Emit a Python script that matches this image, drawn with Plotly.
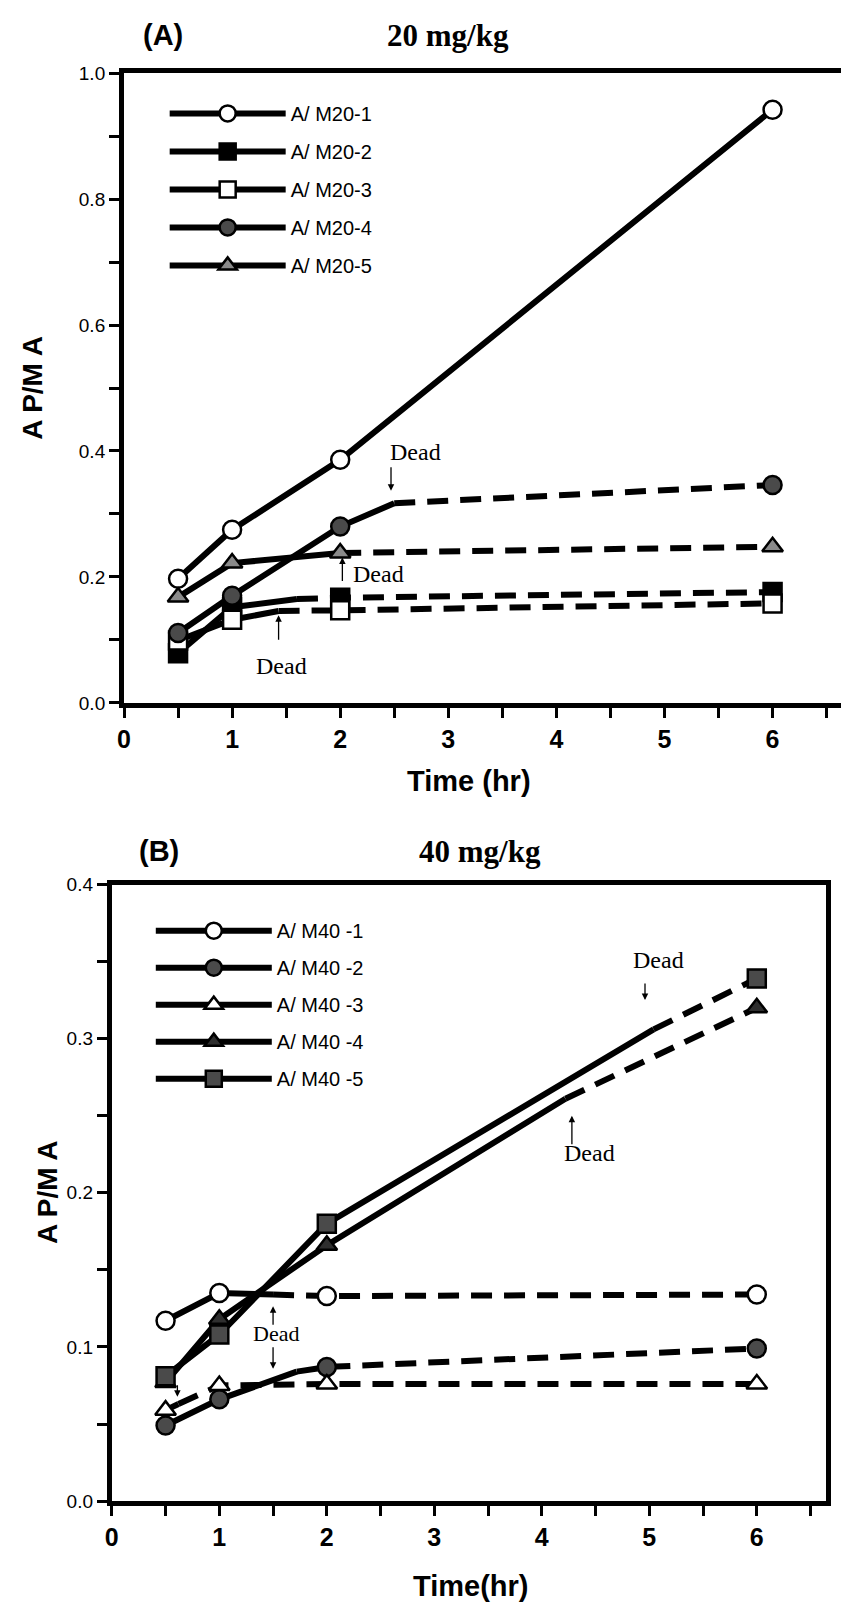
import plotly.graph_objects as go

W, H = 841, 1618

# ---------------- data ----------------
time_points = [0.5, 1, 2, 6]

# Panel A (20 mg/kg)
names_A = ["A/ M20-1", "A/ M20-2", "A/ M20-3", "A/ M20-4", "A/ M20-5"]
m20_1 = [0.197, 0.275, 0.386, 0.942]
m20_2 = [0.079, 0.152, 0.167, 0.176]
m20_3 = [0.099, 0.132, 0.147, 0.158]
m20_4 = [0.111, 0.170, 0.280, 0.346]
m20_5 = [0.168, 0.222, 0.238, 0.248]
# time of death and value at that moment (None = survived)
dead_t_A = [None, 1.6, 1.43, 2.5, 2.0]
dead_v_A = [None, 0.165, 0.146, 0.317, 0.238]

# Panel B (40 mg/kg)
names_B = ["A/ M40 -1", "A/ M40 -2", "A/ M40 -3", "A/ M40 -4", "A/ M40 -5"]
m40_1 = [0.117, 0.135, 0.133, 0.134]
m40_2 = [0.049, 0.066, 0.087, 0.099]
m40_3 = [0.059, 0.075, 0.076, 0.076]
m40_4 = [0.077, 0.118, 0.166, 0.320]
m40_5 = [0.081, 0.108, 0.180, 0.339]
dead_t_B = [1.5, 1.72, 0.62, 4.22, 5.04]
dead_v_B = [0.134, 0.084, 0.063, 0.261, 0.306]

# axis ticks
x_tickvals = [0, 0.5, 1, 1.5, 2, 2.5, 3, 3.5, 4, 4.5, 5, 5.5, 6, 6.5]
x_ticktext = ["0", "", "1", "", "2", "", "3", "", "4", "", "5", "", "6", ""]
yA_tickvals = [0, 0.1, 0.2, 0.3, 0.4, 0.5, 0.6, 0.7, 0.8, 0.9, 1.0]
yA_ticktext = ["0.0", "", "0.2", "", "0.4", "", "0.6", "", "0.8", "", "1.0"]
yB_tickvals = [0, 0.05, 0.1, 0.15, 0.2, 0.25, 0.3, 0.35, 0.4]
yB_ticktext = ["0.0", "", "0.1", "", "0.2", "", "0.3", "", "0.4"]

# ---------------- styles ----------------
WHITE, BLACK = "#ffffff", "#000000"
styles_A = [
    dict(symbol="circle", color=WHITE),
    dict(symbol="square", color=BLACK),
    dict(symbol="square", color=WHITE),
    dict(symbol="circle", color="#4a4a4a"),
    dict(symbol="triangle-up", color="#8a8a8a"),
]
styles_B = [
    dict(symbol="circle", color=WHITE),
    dict(symbol="circle", color="#4a4a4a"),
    dict(symbol="triangle-up", color=WHITE),
    dict(symbol="triangle-up", color="#2e2e2e"),
    dict(symbol="square", color="#4a4a4a"),
]
LW = 6
DASH = "21px,12px"
MS = 18

fig = go.Figure()


def add_series(vals, dt, dv, name, st, xa, ya, leg, grp):
    t = time_points
    if dt is None:
        sx, sy, dx, dy = list(t), list(vals), [], []
    else:
        sx = [a for a in t if a <= dt] + [dt]
        sy = [b for a, b in zip(t, vals) if a <= dt] + [dv]
        dx = [dt] + [a for a in t if a > dt]
        dy = [dv] + [b for a, b in zip(t, vals) if a > dt]
    fig.add_trace(go.Scatter(x=sx, y=sy, mode="lines", xaxis=xa, yaxis=ya,
                             line=dict(color=BLACK, width=LW), showlegend=False,
                             hoverinfo="skip"))
    if dx:
        fig.add_trace(go.Scatter(x=dx, y=dy, mode="lines", xaxis=xa, yaxis=ya,
                                 line=dict(color=BLACK, width=LW, dash=DASH),
                                 showlegend=False, hoverinfo="skip"))
    fig.add_trace(go.Scatter(x=t, y=vals, mode="markers", xaxis=xa, yaxis=ya,
                             marker=dict(symbol=st["symbol"], color=st["color"], size=MS,
                                         line=dict(color=BLACK, width=2.5)),
                             showlegend=False, name=name))
    # legend proxy
    fig.add_trace(go.Scatter(x=[None], y=[None], mode="lines+markers", xaxis=xa, yaxis=ya,
                             name=name, legend=leg, legendgroup=grp,
                             line=dict(color=BLACK, width=LW),
                             marker=dict(symbol=st["symbol"], color=st["color"], size=MS - 1,
                                         line=dict(color=BLACK, width=2.5))))


series_A = [m20_1, m20_2, m20_3, m20_4, m20_5]
series_B = [m40_1, m40_2, m40_3, m40_4, m40_5]
for i in range(5):
    add_series(series_A[i], dead_t_A[i], dead_v_A[i], names_A[i], styles_A[i],
               "x", "y", "legend", "A%d" % i)
for i in range(5):
    add_series(series_B[i], dead_t_B[i], dead_v_B[i], names_B[i], styles_B[i],
               "x2", "y2", "legend2", "B%d" % i)

# ---------------- axes ----------------
def px_x(p):
    return p / W


def px_y(p):
    return 1 - p / H


tick_font_y = dict(family="Liberation Sans", size=19, color=BLACK)
tick_font_x = dict(family="Liberation Sans", size=25, color=BLACK, weight="bold")
common_x = dict(showgrid=False, zeroline=False, showline=True, linecolor=BLACK, linewidth=5,
                mirror=True, ticks="outside", ticklen=10, tickwidth=3, tickcolor=BLACK,
                tickmode="array", tickvals=x_tickvals, ticktext=x_ticktext,
                tickfont=tick_font_x)
common_y = dict(showgrid=False, zeroline=False, showline=True, linecolor=BLACK, linewidth=5,
                ticks="outside", ticklen=10, tickwidth=3, tickcolor=BLACK,
                tickmode="array", tickfont=tick_font_y)

fig.update_layout(
    width=W, height=H, margin=dict(l=0, r=0, t=0, b=0),
    paper_bgcolor=WHITE, plot_bgcolor=WHITE,
    xaxis=dict(domain=[px_x(118), 1.0], range=[0, 6.633], anchor="y", **common_x),
    yaxis=dict(domain=[px_y(702), px_y(64)], range=[0, 1.0], anchor="x", mirror=False,
               tickvals=yA_tickvals, ticktext=yA_ticktext, **common_y),
    xaxis2=dict(domain=[px_x(105.7), px_x(826)], range=[0, 6.645], anchor="y2", **common_x),
    yaxis2=dict(domain=[px_y(1510.7), px_y(886)], range=[0, 0.4], anchor="x2", mirror=True,
                tickvals=yB_tickvals, ticktext=yB_ticktext, **common_y),
    legend=dict(x=px_x(159), y=px_y(85), xanchor="left", yanchor="top",
                bgcolor="rgba(0,0,0,0)", itemwidth=116, tracegroupgap=9,
                font=dict(family="Liberation Sans", size=20, color=BLACK)),
    legend2=dict(x=px_x(145), y=px_y(913), xanchor="left", yanchor="top",
                 bgcolor="rgba(0,0,0,0)", itemwidth=116, tracegroupgap=8,
                 font=dict(family="Liberation Sans", size=20, color=BLACK)),
    showlegend=True,
)

# ---------------- annotations ----------------
ann = []


def text_ann(x, y, text, font, xref="paper", yref="paper", xanchor="center", yanchor="middle",
             textangle=0):
    ann.append(dict(x=x, y=y, xref=xref, yref=yref, text=text, showarrow=False, font=font,
                    xanchor=xanchor, yanchor=yanchor, textangle=textangle))


def arrow_ann(x, y, ay, xref, yref):
    ann.append(dict(x=x, y=y, xref=xref, yref=yref, text="", showarrow=True, ax=0, ay=ay,
                    arrowhead=2, arrowsize=1, arrowwidth=1.3, arrowcolor=BLACK))


sans_b = lambda s: dict(family="Liberation Sans", size=s, color=BLACK, weight="bold")
serif_b = lambda s: dict(family="Liberation Serif", size=s, color=BLACK, weight="bold")
serif = lambda s: dict(family="Liberation Serif", size=s, color=BLACK)

# panel titles
text_ann(px_x(157), px_y(25), "(A)", sans_b(29))
text_ann(px_x(445), px_y(26), "20 mg/kg", serif_b(31))
text_ann(px_x(153), px_y(852), "(B)", sans_b(29))
text_ann(px_x(477), px_y(853), "40 mg/kg", serif_b(31))
# axis titles
text_ann(px_x(25), px_y(383), "A P/M A", sans_b(28), textangle=-90)
text_ann(px_x(41), px_y(1198), "A P/M A", sans_b(28), textangle=-90)
text_ann(px_x(466), px_y(781), "Time (hr)", sans_b(29))
text_ann(px_x(467), px_y(1597), "Time(hr)", sans_b(29))

# "Dead" labels and arrows, panel A
text_ann(2.70, 0.398, "Dead", serif(24), "x", "y")
arrow_ann(2.47, 0.337, -25, "x", "y")
text_ann(2.10, 0.205, "Dead", serif(24), "x", "y", xanchor="left")
arrow_ann(2.02, 0.231, 25, "x", "y")
text_ann(1.455, 0.058, "Dead", serif(24), "x", "y")
arrow_ann(1.43, 0.139, 26, "x", "y")
# panel B
text_ann(5.09, 0.351, "Dead", serif(24), "x2", "y2")
arrow_ann(4.96, 0.325, -18, "x2", "y2")
text_ann(4.44, 0.226, "Dead", serif(24), "x2", "y2")
arrow_ann(4.28, 0.250, 30, "x2", "y2")
text_ann(1.525, 0.109, "Dead", serif(22), "x2", "y2")
arrow_ann(1.50, 0.1264, 20, "x2", "y2")
arrow_ann(1.50, 0.0858, -23, "x2", "y2")
arrow_ann(0.61, 0.0677, -13, "x2", "y2")

fig.update_layout(annotations=ann)

fig.write_html("out.html")
